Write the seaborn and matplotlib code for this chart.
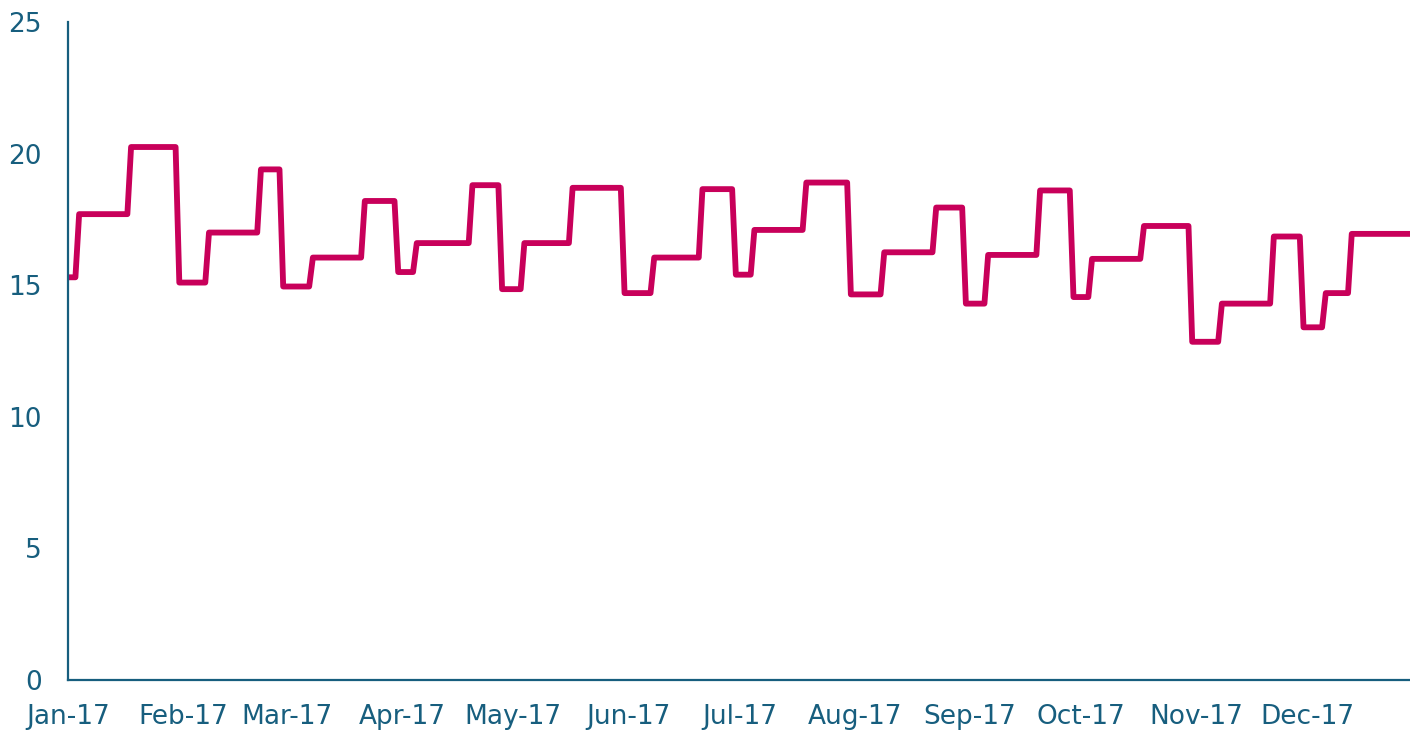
import numpy as np
import pandas as pd
import matplotlib
matplotlib.use("Agg")
import matplotlib.pyplot as plt
import matplotlib.dates as mdates
import seaborn as sns

# ---- data ----
level_start = ["2017-01-01", "2017-01-04", "2017-01-18", "2017-01-31", "2017-02-08",
               "2017-02-22", "2017-02-28", "2017-03-08", "2017-03-22", "2017-03-31",
               "2017-04-05", "2017-04-20", "2017-04-28", "2017-05-04", "2017-05-17",
               "2017-05-31", "2017-06-08", "2017-06-21", "2017-06-30", "2017-07-05",
               "2017-07-19", "2017-07-31", "2017-08-09", "2017-08-23", "2017-08-31",
               "2017-09-06", "2017-09-20", "2017-09-29", "2017-10-04", "2017-10-18",
               "2017-10-31", "2017-11-08", "2017-11-22", "2017-11-30", "2017-12-06",
               "2017-12-13"]
level_value = [15.3, 17.7, 20.25, 15.1, 17.0,
               19.4, 14.95, 16.05, 18.2, 15.5,
               16.6, 18.8, 14.85, 16.6, 18.7,
               14.7, 16.05, 18.65, 15.4, 17.1,
               18.9, 14.65, 16.25, 17.95, 14.3,
               16.15, 18.6, 14.55, 16.0, 17.25,
               12.85, 14.3, 16.85, 13.4, 14.7,
               16.95]
series_end = "2017-12-31"
y_ticks = [0, 5, 10, 15, 20, 25]

# daily series: each level holds until the next one starts
levels = pd.Series(level_value, index=pd.to_datetime(level_start))
days = pd.date_range(level_start[0], series_end, freq="D")
daily = levels.reindex(days).ffill()
df = pd.DataFrame({"date": days, "value": daily.values})

# ---- style ----
TEAL = "#175e7e"
LINE = "#c8005a"
sns.set_style("white")
plt.rcParams["font.family"] = ["DejaVu Sans"]

fig = plt.figure(figsize=(14.10, 7.32), dpi=100)
ax = fig.add_axes([68 / 1410, 52 / 732, (1410 - 68) / 1410, (680 - 22) / 732])

sns.lineplot(data=df, x="date", y="value", ax=ax, color=LINE, linewidth=4.2,
             solid_joinstyle="round", solid_capstyle="butt")

ax.set_ylim(0, 25)
ax.set_yticks(y_ticks)
ax.set_xlim(pd.Timestamp("2017-01-01"), pd.Timestamp("2017-01-01") + pd.Timedelta(days=361.7))
ax.xaxis.set_major_locator(mdates.MonthLocator())
ax.xaxis.set_major_formatter(mdates.DateFormatter("%b-%y"))

ax.set_xlabel("")
ax.set_ylabel("")
for side in ["top", "right"]:
    ax.spines[side].set_visible(False)
for side in ["left", "bottom"]:
    ax.spines[side].set_color(TEAL)
    ax.spines[side].set_linewidth(1.6)

ax.tick_params(axis="both", length=0, colors=TEAL, labelsize=19)
ax.tick_params(axis="x", pad=17)
ax.tick_params(axis="y", pad=19)
ax.grid(False)

fig.savefig("out.png", dpi=100, facecolor="white")
